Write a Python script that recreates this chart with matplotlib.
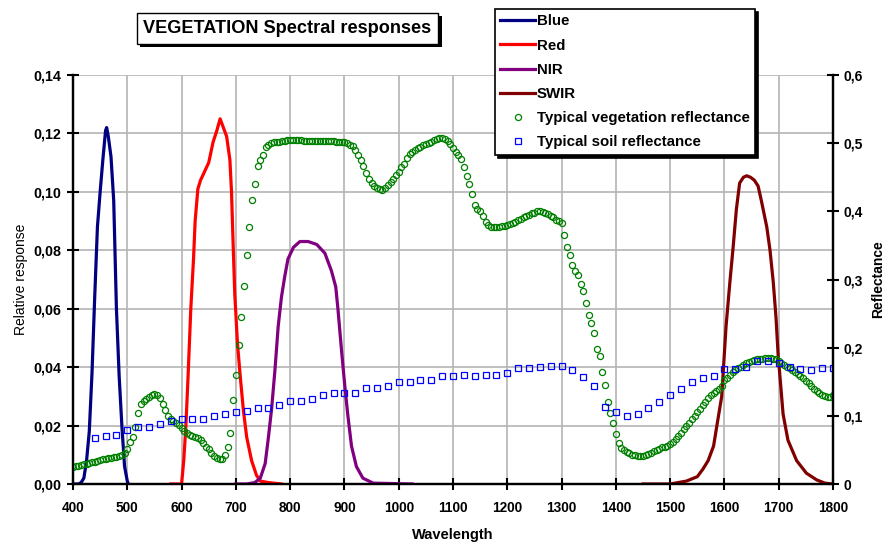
import matplotlib
matplotlib.use("Agg")
import matplotlib.pyplot as plt
from matplotlib.ticker import FuncFormatter
from matplotlib import patheffects

SANS = "Liberation Sans"

# ---------------- data ----------------
blue_wl = [400, 410, 415, 420, 425, 430, 435, 440, 445, 450, 455, 460, 462, 465, 470, 475, 480, 485, 490, 495, 500, 502]
blue_val = [0, 0, 0.0005, 0.002, 0.008, 0.018, 0.038, 0.064, 0.088, 0.100, 0.111, 0.121, 0.122, 0.119, 0.112, 0.097, 0.060, 0.037, 0.020, 0.006, 0.001, 0]

red_wl = [580, 600, 604, 608, 612, 617, 622, 625, 630, 635, 640, 650, 658, 665, 671, 677, 683, 689, 692, 695, 698, 703, 708, 714, 720, 729, 738, 745, 760, 784]
red_val = [0, 0, 0.008, 0.020, 0.037, 0.060, 0.077, 0.090, 0.101, 0.104, 0.106, 0.110, 0.117, 0.121, 0.125, 0.122, 0.119, 0.111, 0.100, 0.082, 0.065, 0.048, 0.037, 0.025, 0.016, 0.008, 0.003, 0.001, 0.0005, 0]

nir_wl = [700, 720, 735, 745, 754, 760, 766, 772, 778, 784, 790, 796, 806, 818, 833, 849, 864, 876, 884, 888, 895, 901, 906, 913, 922, 934, 953, 1025]
nir_val = [0, 0, 0.0005, 0.002, 0.007, 0.016, 0.026, 0.039, 0.054, 0.064, 0.071, 0.077, 0.081, 0.083, 0.083, 0.082, 0.079, 0.073, 0.0675, 0.060, 0.045, 0.033, 0.024, 0.013, 0.006, 0.002, 0.0003, 0]

swir_wl = [1450, 1500, 1530, 1550, 1560, 1570, 1580, 1587, 1595, 1603, 1610, 1616, 1622, 1628, 1635, 1641, 1648, 1655, 1662, 1668, 1678, 1684, 1690, 1695, 1699, 1704, 1708, 1717, 1733, 1751, 1770, 1785, 1800]
swir_val = [0, 0, 0.001, 0.0025, 0.005, 0.008, 0.013, 0.021, 0.030, 0.054, 0.069, 0.081, 0.094, 0.103, 0.105, 0.1055, 0.105, 0.104, 0.102, 0.097, 0.088, 0.080, 0.069, 0.057, 0.044, 0.033, 0.024, 0.015, 0.008, 0.0037, 0.0014, 0.0003, 0]

veg_wl = list(range(400, 1805, 5))
veg_refl = [
    0.025, 0.026, 0.027, 0.028, 0.029, 0.030, 0.031, 0.032, 0.033, 0.034,   # 400-445
    0.035, 0.036, 0.037, 0.038, 0.038, 0.039, 0.040, 0.041, 0.043, 0.046,   # 450-495
    0.052, 0.062, 0.069, 0.084, 0.104, 0.118, 0.122, 0.125, 0.128, 0.131,   # 500-545
    0.132, 0.131, 0.126, 0.117, 0.108, 0.100, 0.095, 0.092, 0.089, 0.086,   # 550-595
    0.082, 0.078, 0.075, 0.072, 0.070, 0.069, 0.067, 0.064, 0.060, 0.055,   # 600-645
    0.051, 0.046, 0.041, 0.038, 0.036, 0.036, 0.042, 0.055, 0.075, 0.123,   # 650-695
    0.160, 0.204, 0.245, 0.290, 0.336, 0.377, 0.417, 0.440, 0.466, 0.476,   # 700-745
    0.483, 0.494, 0.498, 0.500, 0.501, 0.502, 0.502, 0.503, 0.503, 0.504,   # 750-795
    0.504, 0.504, 0.505, 0.505, 0.504, 0.503, 0.503, 0.503, 0.503, 0.503,   # 800-845
    0.503, 0.503, 0.503, 0.503, 0.503, 0.503, 0.503, 0.502, 0.502, 0.502,   # 850-895
    0.501, 0.500, 0.498, 0.496, 0.490, 0.483, 0.475, 0.467, 0.456, 0.447,   # 900-945
    0.441, 0.437, 0.434, 0.433, 0.432, 0.434, 0.438, 0.443, 0.448, 0.453,   # 950-995
    0.458, 0.465, 0.470, 0.478, 0.484, 0.487, 0.490, 0.493, 0.495, 0.497,   # 1000-1045
    0.499, 0.500, 0.502, 0.504, 0.506, 0.507, 0.507, 0.506, 0.503, 0.499,   # 1050-1095
    0.493, 0.487, 0.482, 0.477, 0.465, 0.452, 0.440, 0.426, 0.410, 0.404,   # 1100-1145
    0.400, 0.393, 0.385, 0.380, 0.377, 0.377, 0.377, 0.377, 0.378, 0.379,   # 1150-1195
    0.380, 0.382, 0.383, 0.385, 0.387, 0.389, 0.391, 0.393, 0.395, 0.397,   # 1200-1245
    0.398, 0.400, 0.400, 0.399, 0.398, 0.396, 0.393, 0.391, 0.388, 0.386,   # 1250-1295
    0.383, 0.365, 0.348, 0.336, 0.322, 0.313, 0.306, 0.294, 0.283, 0.265,   # 1300-1345
    0.248, 0.236, 0.222, 0.198, 0.188, 0.165, 0.145, 0.120, 0.104, 0.089,   # 1350-1395
    0.074, 0.060, 0.053, 0.050, 0.047, 0.045, 0.043, 0.042, 0.041, 0.041,   # 1400-1445
    0.041, 0.042, 0.044, 0.046, 0.048, 0.050, 0.052, 0.054, 0.055, 0.056,   # 1450-1495
    0.058, 0.062, 0.066, 0.071, 0.075, 0.080, 0.085, 0.090, 0.095, 0.100,   # 1500-1545
    0.105, 0.110, 0.116, 0.121, 0.126, 0.130, 0.133, 0.136, 0.140, 0.144,   # 1550-1595
    0.152, 0.156, 0.160, 0.164, 0.167, 0.170, 0.172, 0.175, 0.177, 0.179,   # 1600-1645
    0.181, 0.182, 0.183, 0.184, 0.184, 0.185, 0.185, 0.185, 0.184, 0.184,   # 1650-1695
    0.180, 0.177, 0.174, 0.172, 0.170, 0.167, 0.164, 0.161, 0.158, 0.155,   # 1700-1745
    0.151, 0.148, 0.144, 0.140, 0.136, 0.133, 0.130, 0.129, 0.128, 0.128,   # 1750-1795
    0.130,                                                                  # 1800
]

soil_wl = list(range(440, 1820, 20))
soil_refl = [
    0.067, 0.070, 0.072, 0.079, 0.083, 0.084, 0.088, 0.093, 0.096, 0.095,   # 440-620
    0.096, 0.100, 0.102, 0.105, 0.107, 0.112, 0.112, 0.116, 0.122, 0.122,   # 640-820
    0.124, 0.130, 0.133, 0.133, 0.133, 0.141, 0.141, 0.144, 0.149, 0.149,   # 840-1020
    0.152, 0.153, 0.159, 0.159, 0.160, 0.159, 0.160, 0.160, 0.163, 0.170,   # 1040-1220
    0.170, 0.171, 0.173, 0.173, 0.167, 0.157, 0.144, 0.113, 0.105, 0.100,   # 1240-1420
    0.103, 0.111, 0.120, 0.130, 0.139, 0.150, 0.155, 0.159, 0.168, 0.169,   # 1440-1620
    0.171, 0.180, 0.180, 0.177, 0.171, 0.169, 0.167, 0.170, 0.170,          # 1640-1800
]

x_ticks = list(range(400, 1900, 100))
left_ticks = [0.00, 0.02, 0.04, 0.06, 0.08, 0.10, 0.12, 0.14]
right_ticks = [0, 0.1, 0.2, 0.3, 0.4, 0.5, 0.6]

# ---------------- figure ----------------
fig = plt.figure(figsize=(8.85, 5.42), dpi=100)
ax = fig.add_axes([73 / 885, 1 - 484 / 542, (833 - 73) / 885, (484 - 75) / 542])
ax2 = ax.twinx()

grid_c = "#b4b4b4"
ax.set_xlim(400, 1800)
ax.set_ylim(0, 0.14)
ax2.set_ylim(0, 0.6)
ax.set_xticks(x_ticks)
ax.set_yticks(left_ticks)
ax2.set_yticks(right_ticks)
ax.grid(True, color=grid_c, linewidth=1.2)
ax.set_axisbelow(True)

ax.yaxis.set_major_formatter(FuncFormatter(lambda v, p: f"{v:.2f}".replace(".", ",")))
ax2.yaxis.set_major_formatter(FuncFormatter(lambda v, p: "0" if abs(v) < 1e-9 else f"{v:.1f}".replace(".", ",")))

for a in (ax, ax2):
    a.spines["top"].set_visible(False)
    for s in ("left", "right", "bottom"):
        a.spines[s].set_linewidth(1.6)
        a.spines[s].set_color("black")
ax.tick_params(axis="both", direction="inout", length=8.5, width=1.5, color="black")
ax2.tick_params(axis="y", direction="inout", length=8.5, width=1.5, color="black")
ax.tick_params(axis="x", pad=8)
ax.tick_params(axis="y", pad=4)
ax2.tick_params(axis="y", pad=3)

for lab in ax.get_xticklabels():
    lab.set_fontfamily(SANS); lab.set_fontweight("bold"); lab.set_fontsize(9.8)
for lab in ax.get_yticklabels():
    lab.set_fontfamily(SANS); lab.set_fontweight("bold"); lab.set_fontsize(10.3)
for lab in ax2.get_yticklabels():
    lab.set_fontfamily(SANS); lab.set_fontweight("bold"); lab.set_fontsize(10)

lw = 2.3
h1, = ax.plot(blue_wl, blue_val, color="#000080", lw=lw, label="Blue", zorder=3)
h2, = ax.plot(red_wl, red_val, color="#ff0000", lw=lw, label="Red", zorder=3)
h3, = ax.plot(nir_wl, nir_val, color="#800080", lw=lw, label="NIR", zorder=3)
h4, = ax.plot(swir_wl, swir_val, color="#800000", lw=lw, label="SWIR", zorder=3)
h5, = ax2.plot(veg_wl, veg_refl, linestyle="none", marker="o", markersize=4.4,
               markerfacecolor="none", markeredgecolor="#008000", markeredgewidth=0.9,
               label="Typical vegetation reflectance")
h6, = ax2.plot(soil_wl, soil_refl, linestyle="none", marker="s", markersize=4.4,
               markerfacecolor="none", markeredgecolor="#0000ff", markeredgewidth=0.9,
               label="Typical soil reflectance")

ax.set_xlabel("Wavelength", fontfamily=SANS, fontweight="bold", fontsize=10.5, labelpad=9)
ax.set_ylabel("Relative response", fontfamily=SANS, fontsize=10)
ax2.set_ylabel("Reflectance", fontfamily=SANS, fontweight="bold", fontsize=10)
ax2.yaxis.set_label_coords(1.050, 0.5)

leg = fig.legend([h1, h2, h3, h4, h5, h6],
                 [h.get_label() for h in (h1, h2, h3, h4, h5, h6)],
                 loc="upper left", bbox_to_anchor=(495 / 885, 1 - 9 / 542),
                 bbox_transform=fig.transFigure, borderaxespad=0,
                 prop=dict(family=SANS, weight="bold", size=10.8),
                 handlelength=2.3, handletextpad=0.13, labelspacing=0.68,
                 borderpad=0.36, numpoints=1, fancybox=False, framealpha=1,
                 edgecolor="black",
                 shadow={"facecolor": "black", "edgecolor": "black", "alpha": 1})
leg.get_frame().set_linewidth(1.2)

t = fig.text(287.5 / 885, 1 - 28.5 / 542, "VEGETATION Spectral responses",
             ha="center", va="center", fontfamily=SANS, fontweight="bold", fontsize=13.1,
             bbox=dict(boxstyle="square,pad=0.38", fc="white", ec="black", lw=1.0))
t.get_bbox_patch().set_path_effects([
    patheffects.SimplePatchShadow(offset=(2.2, -2.2), shadow_rgbFace="black", alpha=1),
    patheffects.Normal()])

fig.savefig("out.png", dpi=100)
